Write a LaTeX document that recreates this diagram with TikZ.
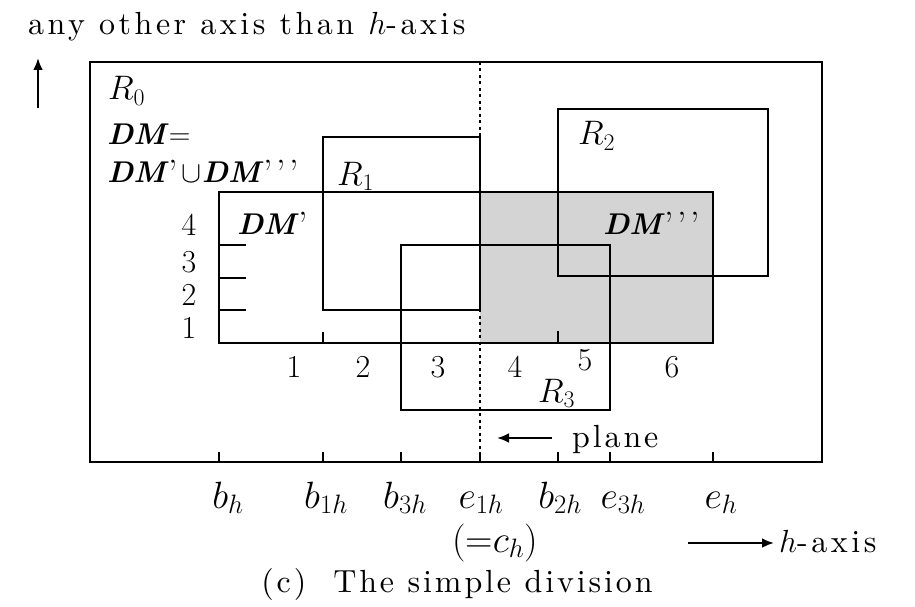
\RequirePackage{fix-cm}
\documentclass[tikz,border=0pt]{standalone}
\usepackage{fontspec}
\usetikzlibrary{arrows.meta}
\newfontfamily\spcfont{lmroman10-regular.otf}[LetterSpace=9]
\newfontfamily\widefont{lmroman10-regular.otf}[LetterSpace=11]
\newcommand{\fs}[1]{\fontsize{#1}{#1}\selectfont}
\newcommand{\pr}{\raisebox{-4pt}{\fs{38}’}\kern3.5pt}
\tikzset{
  box/.style={draw, line width=2.2pt},
  tick/.style={line width=2pt},
  lab/.style={inner sep=0pt, anchor=base west},
  num/.style={inner sep=0pt, anchor=base, font=\fs{32}},
  blab/.style={inner sep=0pt, anchor=base, font=\fs{38}},
  arr/.style={line width=2.4pt, -{Latex[length=12pt,width=10pt]}},
}
\begin{document}
\begin{tikzpicture}[x=1pt,y=-1pt]
\useasboundingbox (0,0) rectangle (915,607);
% shaded DM'''
\fill[black!17] (480,192) rectangle (713,343);
% dotted plane line
\draw[line width=2.2pt, dash pattern=on 3pt off 3.5pt] (480,62) -- (480,462);
% rectangles
\draw[box] (90,62) rectangle (822,462);
\draw[box] (219,192) rectangle (713,343);
\draw[box] (323,137) rectangle (480,310);
\draw[box] (558,109) rectangle (768,276);
\draw[box] (401,245) rectangle (610,410);
% DM ticks
\foreach \yy in {245,278,310} \draw[tick] (219,\yy) -- (246,\yy);
\draw[tick] (323,343) -- (323,332);
\draw[tick] (558,343) -- (558,331);
% axis ticks
\foreach \xx in {219,323,401,480,558,610,713} \draw[tick] (\xx,462) -- (\xx,452);
% labels
\node[lab, font=\widefont\fs{32}] (title) at (28,35) {any other axis than $h$-axis};
\coordinate (upS) at (38,108);
\coordinate (upE) at (38,58);
\draw[arr] (upS) -- (upE);
\node[lab, font=\fs{34}] (r0) at (108,100) {$R_0$};
\node[lab, font=\fs{30}] (dm) at (107,145) {\textbf{\textit{DM}}=};
\node[lab, font=\fs{30}] (dmu) at (107,182) {\textbf{\textit{DM}}\pr$\cup$\textbf{\textit{DM}}\pr\pr\pr};
\node[lab, font=\fs{34}] (r1) at (337,185) {$R_1$};
\node[lab, font=\fs{34}] (r2) at (578,145) {$R_2$};
\node[lab, font=\fs{30}] (dmp) at (237,234) {\textbf{\textit{DM}}\pr};
\node[lab, font=\fs{30}] (dmppp) at (603,234) {\textbf{\textit{DM}}\pr\pr\pr};
\node[lab, font=\fs{34}] (r3) at (538,402) {$R_3$};
% row numbers
\node[num] (y4) at (189,235) {4};
\node[num] (y3) at (189,272) {3};
\node[num] (y2) at (189,305) {2};
\node[num] (y1) at (189,338) {1};
% column numbers
\node[num] (c1) at (294,377) {1};
\node[num] (c2) at (363,377) {2};
\node[num] (c3) at (438,377) {3};
\node[num] (c4) at (515,377) {4};
\node[num] (c5) at (585,370) {5};
\node[num] (c6) at (672,377) {6};
% plane
\coordinate (plS) at (552,438);
\coordinate (plE) at (497,438);
\draw[arr] (plS) -- (plE);
\node[lab, font=\spcfont\fs{32}] (plane) at (572,447) {plane};
% bottom labels
\node[blab] (bh) at (228,508) {$b_h$};
\node[blab] (b1h) at (326,508) {$b_{1h}$};
\node[blab] (b3h) at (405,508) {$b_{3h}$};
\node[blab] (e1h) at (481,508) {$e_{1h}$};
\node[blab] (b2h) at (560,508) {$b_{2h}$};
\node[blab] (e3h) at (623,508) {$e_{3h}$};
\node[blab] (eh) at (721,508) {$e_h$};
\node[inner sep=0pt, anchor=base, font=\fs{38}] (ch) at (495,552) {(=$c_h$)};
\coordinate (haS) at (688,543);
\coordinate (haE) at (774,543);
\draw[arr] (haS) -- (haE);
\node[lab, font=\widefont\fs{32}] (hax) at (779,552) {$h$-axis};
\node[inner sep=0pt, anchor=base, font=\spcfont\fs{32}] (cap) at (457,592) {(c)\ \ The simple division};
\end{tikzpicture}
\end{document}
